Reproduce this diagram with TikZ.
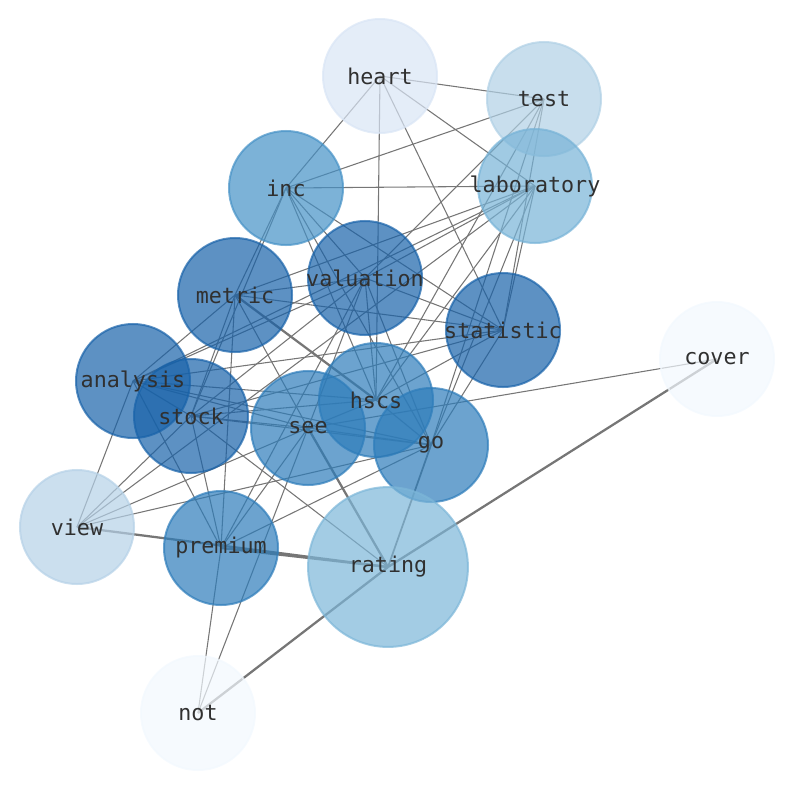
\documentclass[tikz,border=0pt]{standalone}
\usepackage{fontspec}
\newfontfamily\labelfont{DejaVu Sans Mono}
\usetikzlibrary{backgrounds}
\definecolor{cDark}{RGB}{24,98,169}
\definecolor{cMed}{RGB}{45,124,186}
\definecolor{cInc}{RGB}{69,145,198}
\definecolor{cLab}{RGB}{119,179,215}
\definecolor{cRat}{RGB}{124,182,216}
\definecolor{cTest}{RGB}{176,208,229}
\definecolor{cView}{RGB}{181,209,231}
\definecolor{cHeart}{RGB}{217,229,245}
\definecolor{cPale}{RGB}{242,248,254}
\definecolor{edgegray}{RGB}{118,118,118}
\definecolor{txt}{RGB}{48,48,48}
\tikzset{
  vtx/.style={circle, minimum size=3.01cm, inner sep=0pt, fill=#1, draw=#1, line width=1.5pt,
    fill opacity=0.7, draw opacity=0.7},
  bigvtx/.style={vtx=#1, minimum size=4.22cm},
  lbl/.style={inner sep=0pt, text=txt, font=\labelfont\fontsize{16.3pt}{18pt}\selectfont},
  lnk/.style={draw=edgegray, line width=0.8pt},
  mlnk/.style={draw=edgegray, line width=1.3pt},
  tlnk/.style={draw=edgegray, line width=1.7pt}
}
\begin{document}
\begin{tikzpicture}[x=0.0264cm, y=-0.0264cm]
\useasboundingbox (0,0) rectangle (794,790);
\node[vtx=cHeart] (heart) at (380,76) {};
\node[vtx=cTest] (test) at (544,99) {};
\node[vtx=cInc] (inc) at (286,188) {};
\node[vtx=cLab] (laboratory) at (535,186) {};
\node[vtx=cDark] (valuation) at (365,278) {};
\node[vtx=cDark] (metric) at (235,295) {};
\node[vtx=cDark] (statistic) at (503,330) {};
\node[vtx=cPale] (cover) at (717,359) {};
\node[vtx=cDark] (analysis) at (133,381) {};
\node[vtx=cMed] (hscs) at (376,400) {};
\node[vtx=cDark] (stock) at (191,416) {};
\node[vtx=cMed] (see) at (308,428) {};
\node[vtx=cMed] (go) at (431,445) {};
\node[vtx=cView] (view) at (77,527) {};
\node[vtx=cMed] (premium) at (221,548) {};
\node[bigvtx=cRat] (rating) at (388,567) {};
\node[vtx=cPale] (not) at (198,713) {};
\foreach \n in {heart, test, inc, laboratory, valuation, metric, statistic, cover, analysis, hscs, stock, see, go, view, premium, rating, not}
  \node[lbl] (\n-label) at (\n.center) {\n};
\begin{scope}[on background layer]
\foreach \a/\b in {heart/test, heart/inc, heart/hscs, heart/statistic, heart/laboratory,
  test/inc, test/valuation, test/hscs, test/go, test/statistic,
  laboratory/inc, laboratory/statistic, laboratory/metric, laboratory/valuation, laboratory/analysis, laboratory/hscs, laboratory/view, laboratory/go,
  inc/metric, inc/stock, inc/valuation, inc/hscs, inc/statistic, inc/go,
  valuation/metric, valuation/statistic, valuation/premium, valuation/see, valuation/hscs, valuation/go, valuation/analysis, valuation/stock,
  metric/statistic, metric/analysis, metric/premium, metric/stock, metric/see,
  statistic/analysis, statistic/stock, statistic/hscs, statistic/go,
  analysis/stock, analysis/hscs, analysis/see, analysis/go, analysis/view, analysis/premium,
  stock/see, stock/hscs, stock/go, stock/view, stock/premium, stock/rating,
  see/hscs, see/go, see/view, see/not, see/premium, see/cover,
  hscs/go, go/view, go/premium, premium/not}
  \draw[lnk] (\a.center) -- (\b.center);
\draw[tlnk] (metric.center) -- (hscs.center);
\draw[tlnk] (see.center) -- (rating.center);
\draw[mlnk] (go.center) -- (rating.center);
\draw[tlnk] (premium.center) -- (rating.center);
\draw[tlnk] (view.center) -- (rating.center);
\draw[tlnk] (rating.center) -- (cover.center);
\draw[tlnk] (rating.center) -- (not.center);
\end{scope}
\end{tikzpicture}
\end{document}
